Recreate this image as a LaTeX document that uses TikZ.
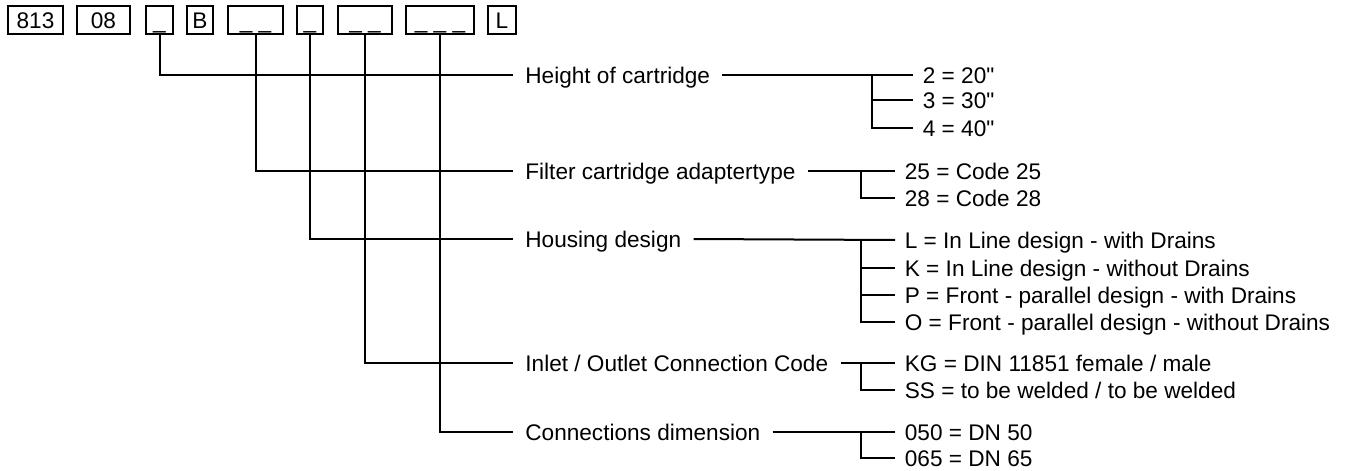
\documentclass[tikz,border=0pt]{standalone}
\usepackage{fontspec}
\setmainfont{Liberation Sans}[Ligatures=TeXOff]
\usetikzlibrary{positioning}
\tikzset{
  cbox/.style={draw, line width=0.6pt, rectangle, inner sep=0pt, minimum height=14pt, text height=9pt, text depth=1pt, font=\fontsize{11.3}{13}\selectfont},
  lbl/.style={anchor=west, inner xsep=6pt, inner ysep=0pt, text height=8.1pt, text depth=0pt, font=\fontsize{11.3}{13}\selectfont},
  opt/.style={anchor=west, inner xsep=4.75pt, inner ysep=0pt, text height=8.1pt, text depth=0pt, font=\fontsize{11.3}{13}\selectfont},
  ln/.style={line width=1pt},
}
\begin{document}
\begin{tikzpicture}[x=0.5pt, y=-0.5pt]
\useasboundingbox (0,0) rectangle (1372,471);
\node[cbox, minimum width=27.5pt] (c1) at (35.5,20) {813};
\node[cbox, minimum width=26.5pt] (c2) at (103.5,20) {08};
\node[cbox, minimum width=13.5pt] (c3) at (159.5,20) {\_};
\node[cbox, minimum width=13pt] (c4) at (200,20) {B};
\node[cbox, minimum width=27.5pt] (c5) at (255.5,20) {\_ \_};
\node[cbox, minimum width=13pt] (c6) at (310,20) {\_};
\node[cbox, minimum width=27pt] (c7) at (365,20) {\_ \_};
\node[cbox, minimum width=34pt] (c8) at (440,20) {\_ \_ \_};
\node[cbox, minimum width=14pt] (c9) at (502,20) {L};
\node[lbl] (hgt) at (513,75) {Height of cartridge};
\node[lbl] (adp) at (513,171) {Filter cartridge adaptertype};
\node[lbl] (hsg) at (513,239) {Housing design};
\node[lbl] (con) at (513,363) {Inlet / Outlet Connection Code};
\node[lbl] (dim) at (513,432) {Connections dimension};
\node[opt] (h2) at (913,75) {2 = 20"};
\node[opt] (h3) at (913,100) {3 = 30"};
\node[opt] (h4) at (913,128) {4 = 40"};
\node[opt] (a25) at (895,171) {25 = Code 25};
\node[opt] (a28) at (895,198) {28 = Code 28};
\node[opt] (hl) at (895,240) {L = In Line design - with Drains};
\node[opt] (hk) at (895,268) {K = In Line design - without Drains};
\node[opt] (hp) at (895,295) {P = Front - parallel design - with Drains};
\node[opt] (ho) at (895,322) {O = Front - parallel design - without Drains};
\node[opt] (kg) at (895,363) {KG = DIN 11851 female / male};
\node[opt] (ss) at (895,390) {SS = to be welded / to be welded};
\node[opt] (d50) at (895,432) {050 = DN 50};
\node[opt] (d65) at (895,458) {065 = DN 65};
\coordinate (hb) at (872,75);
\coordinate (ab) at (861,171);
\coordinate (sb) at (861,240);
\coordinate (kb) at (861,363);
\coordinate (db) at (861,432);
\draw[ln] (c3.south) |- (hgt.west);
\draw[ln] (c5.south) |- (adp.west);
\draw[ln] (c6.south) |- (hsg.west);
\draw[ln] (c7.south) |- (con.west);
\draw[ln] (c8.south) |- (dim.west);
\draw[ln] (hgt.east) -- (h2.west);
\draw[ln] (hb) |- (h3.west) (hb) |- (h4.west);
\draw[ln] (adp.east) -- (a25.west);
\draw[ln] (ab) |- (a28.west);
\draw[ln] (hsg.east) -- (hl.west);
\draw[ln] (sb) |- (hk.west) (sb) |- (hp.west) (sb) |- (ho.west);
\draw[ln] (con.east) -- (kg.west);
\draw[ln] (kb) |- (ss.west);
\draw[ln] (dim.east) -- (d50.west);
\draw[ln] (db) |- (d65.west);
\end{tikzpicture}
\end{document}
